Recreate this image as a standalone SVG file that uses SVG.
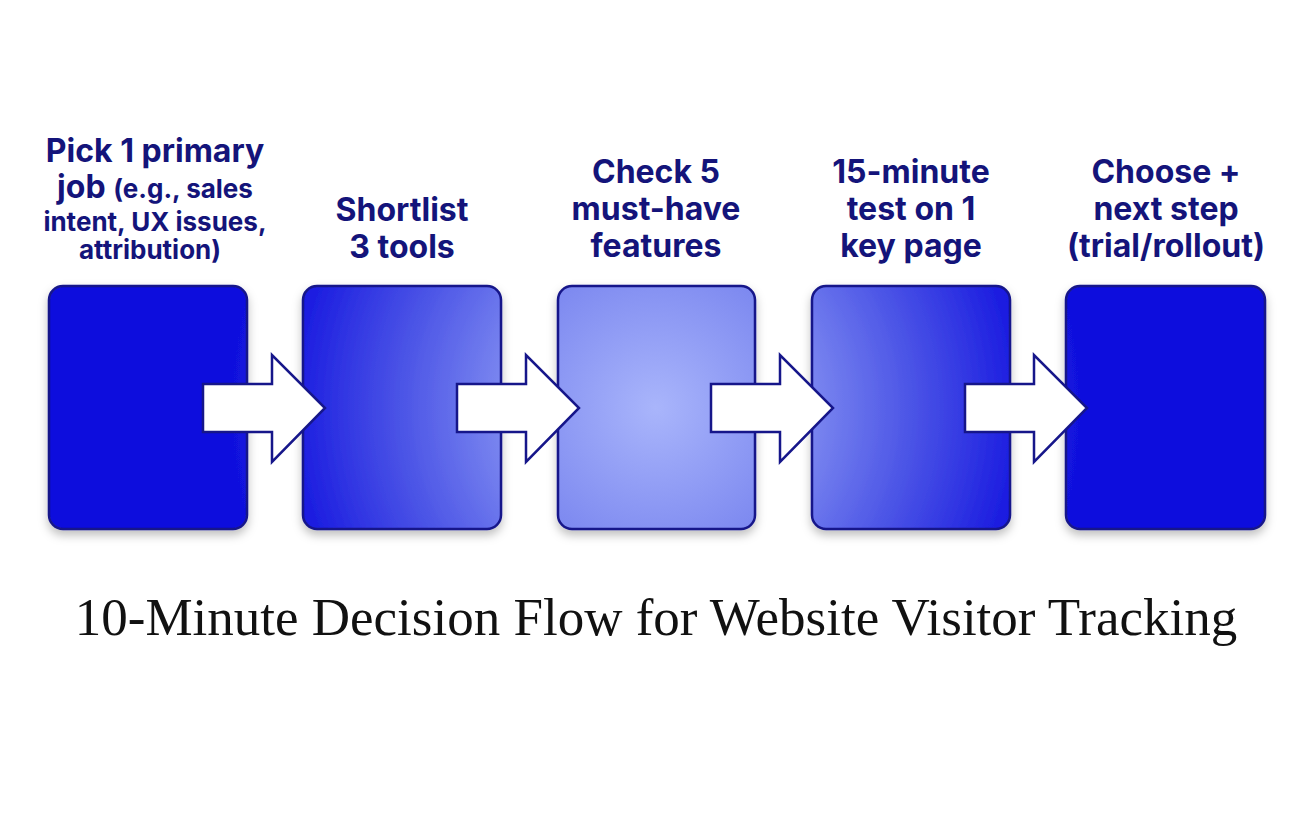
<svg xmlns="http://www.w3.org/2000/svg" width="1312" height="816" viewBox="0 0 1312 816">
<defs>
<radialGradient id="g" gradientUnits="userSpaceOnUse" cx="656" cy="408" r="430">
<stop offset="0" stop-color="#a9b5fb"/>
<stop offset="0.35" stop-color="#7d89f0"/>
<stop offset="0.6" stop-color="#4a53e6"/>
<stop offset="0.85" stop-color="#1a1be0"/>
<stop offset="1" stop-color="#1010dd"/>
</radialGradient>
<filter id="sh" x="-20%" y="-20%" width="140%" height="140%">
<feDropShadow dx="0" dy="5" stdDeviation="5" flood-color="#000" flood-opacity="0.25"/>
</filter>
<polygon id="arr" points="203,384 272,384 272,355 325,408 272,462 272,432 203,432"/>
</defs>
<style>
.box{fill:url(#g);stroke:#16168a;stroke-width:2.5;filter:url(#sh)}
.lbl{font-family:Inter,"Liberation Sans",sans-serif;font-weight:700;font-size:32px;fill:#14147a;text-anchor:middle}
.sm{font-size:26px}
.arrow{fill:#fff;stroke:#16168a;stroke-width:2.5;stroke-linejoin:miter}
.title{font-family:"Liberation Serif",serif;font-size:53px;fill:#111;text-anchor:middle}
</style>
<rect width="1312" height="816" fill="#fff"/>
<g id="node1">
<rect class="box" x="49" y="286" width="198" height="243" rx="14"/>
<text class="lbl" x="155" y="162">Pick 1 primary</text>
<text class="lbl" x="155" y="198">job <tspan class="sm">(e.g., sales</tspan></text>
<text class="lbl sm" x="155" y="231">intent, UX issues,</text>
<text class="lbl sm" x="150" y="259">attribution)</text>
</g>
<g id="node2">
<rect class="box" x="303" y="286" width="198" height="243" rx="14"/>
<text class="lbl" x="402" y="221">Shortlist</text>
<text class="lbl" x="402" y="258">3 tools</text>
</g>
<g id="node3">
<rect class="box" x="558" y="286" width="197" height="243" rx="14"/>
<text class="lbl" x="656" y="183">Check 5</text>
<text class="lbl" x="656" y="220">must-have</text>
<text class="lbl" x="656" y="257">features</text>
</g>
<g id="node4">
<rect class="box" x="812" y="286" width="198" height="243" rx="14"/>
<text class="lbl" x="911" y="183">15-minute</text>
<text class="lbl" x="911" y="220">test on 1</text>
<text class="lbl" x="911" y="257">key page</text>
</g>
<g id="node5">
<rect class="box" x="1066" y="286" width="199" height="243" rx="14"/>
<text class="lbl" x="1166" y="183">Choose +</text>
<text class="lbl" x="1166" y="220">next step</text>
<text class="lbl" x="1166" y="257">(trial/rollout)</text>
</g>
<g id="connectors">
<use href="#arr" class="arrow"/>
<use href="#arr" class="arrow" transform="translate(254,0)"/>
<use href="#arr" class="arrow" transform="translate(508,0)"/>
<use href="#arr" class="arrow" transform="translate(762,0)"/>
</g>
<text class="title" x="656" y="635">10-Minute Decision Flow for Website Visitor Tracking</text>
</svg>
